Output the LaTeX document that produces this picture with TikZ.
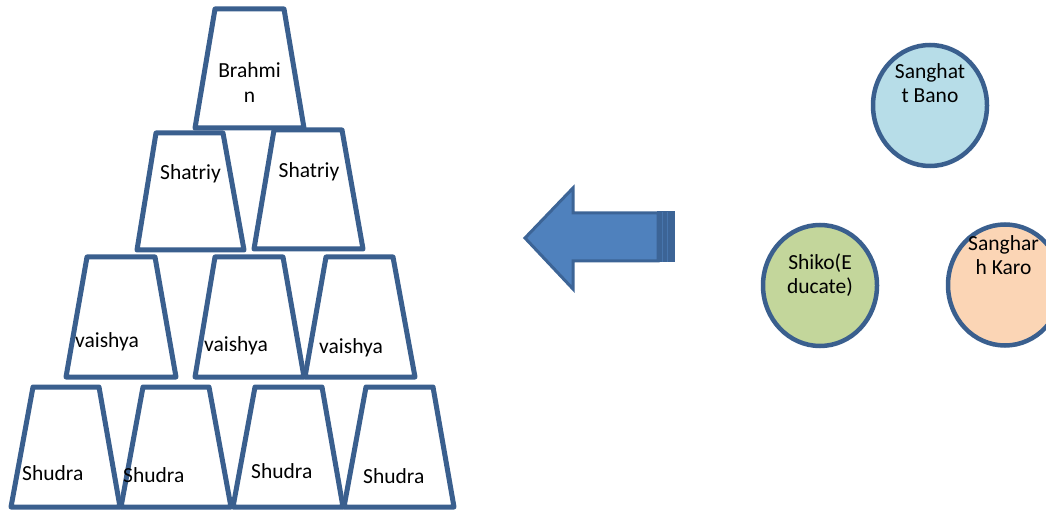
\documentclass[tikz,border=0pt]{standalone}
\usepackage{fontspec}
\setmainfont{Carlito}
\usetikzlibrary{shapes.geometric}
\definecolor{edge}{HTML}{3A5F8E}
\definecolor{arrowfill}{HTML}{4F81BD}
\definecolor{arrowedge}{HTML}{3C6496}
\definecolor{blueball}{HTML}{B7DDE8}
\definecolor{greenball}{HTML}{C3D69B}
\definecolor{peachball}{HTML}{FBD5B5}
\tikzset{
  cup/.style={draw=edge, line width=5pt, line join=round, fill=white},
  lbl/.style={inner sep=0pt, font=\fontsize{21.5}{25}\selectfont, text=black},
  ball/.style={draw=edge, line width=4.5pt, ellipse, minimum width=114pt, minimum height=121pt, inner sep=0pt},
}
\begin{document}
\begin{tikzpicture}[x=1pt,y=-1pt]
\fill[white] (0,0) rectangle (1046,510);
\useasboundingbox (0,0) rectangle (1046,510);
% Brahmin
\draw[cup] (215,9) -- (284,9) -- (304,128) -- (195,128) -- cycle;
\node[lbl, anchor=base] (brahmin1) at (249.5,78) {Brahmi};
\node[lbl, anchor=base] (brahmin2) at (249.5,103) {n};
% Shatriy
\draw[cup] (156,133) -- (223,133) -- (244,250) -- (137,250) -- cycle;
\draw[cup] (274,130) -- (342,130) -- (363,249) -- (254,249) -- cycle;
\node[lbl, anchor=base] (shatriy1) at (190.5,180) {Shatriy};
\node[lbl, anchor=base] (shatriy2) at (309,178) {Shatriy};
% vaishya
\draw[cup] (87,257) -- (155,257) -- (176,377) -- (66,377) -- cycle;
\draw[cup] (215,257) -- (283,257) -- (304,377) -- (195,377) -- cycle;
\draw[cup] (326,257) -- (393,257) -- (415,377) -- (305,377) -- cycle;
\node[lbl, anchor=base west] (vaishya1) at (75,347) {vaishya};
\node[lbl, anchor=base west] (vaishya2) at (204,351) {vaishya};
\node[lbl, anchor=base west] (vaishya3) at (319,353) {vaishya};
% Shudra
\draw[cup] (33,387) -- (99,387) -- (120,507) -- (11,507) -- cycle;
\draw[cup] (143,387) -- (209,387) -- (231,507) -- (121,507) -- cycle;
\draw[cup] (255,387) -- (322,387) -- (343,507) -- (233,507) -- cycle;
\draw[cup] (366,387) -- (433,387) -- (454,507) -- (344,507) -- cycle;
\node[lbl, anchor=base west] (shudra1) at (22,480) {Shudra};
\node[lbl, anchor=base west] (shudra2) at (123,482) {Shudra};
\node[lbl, anchor=base west] (shudra3) at (251,478) {Shudra};
\node[lbl, anchor=base west] (shudra4) at (363,483) {Shudra};
% Arrow
\draw[fill=arrowfill, draw=arrowedge, line width=3pt, line join=miter]
  (658,213) -- (573,213) -- (573,188) -- (525,238) -- (573,289) -- (573,261) -- (658,261) -- cycle;
\fill[arrowedge] (657,211.5) rectangle (675,262.5);
\draw[arrowfill!60!arrowedge, line width=0.6pt] (662.5,212) -- (662.5,262);
\draw[arrowfill!60!arrowedge, line width=0.6pt] (667.5,212) -- (667.5,262);
% Circles
\node[ball, fill=blueball] (bano) at (930,105.5) {};
\node[lbl, anchor=base] (banotxt1) at (930,79) {Sanghat};
\node[lbl, anchor=base] (banotxt2) at (930,103) {t Bano};
\node[ball, fill=greenball] (shiko) at (820,285.5) {};
\node[lbl, anchor=base] (shikotxt1) at (820,270) {Shiko(E};
\node[lbl, anchor=base] (shikotxt2) at (820,294) {ducate)};
\node[ball, fill=peachball] (karo) at (1005,285) {};
\node[lbl, anchor=base] (karotxt1) at (1003.5,251) {Sanghar};
\node[lbl, anchor=base] (karotxt2) at (1003.5,275) {h Karo};
\end{tikzpicture}
\end{document}
